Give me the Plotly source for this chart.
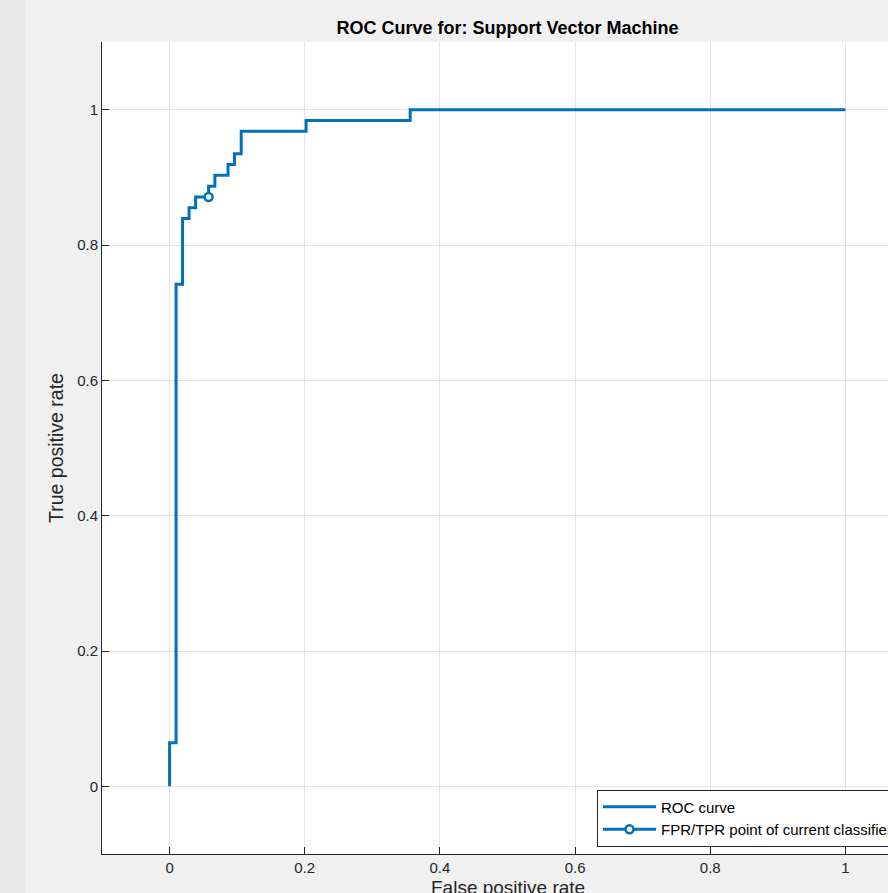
import plotly.graph_objects as go

# ROC curve vertices (step shape 'hv')
fpr = [0, 0, 0.0096, 0.0192, 0.0288, 0.0385, 0.0577, 0.067, 0.0865, 0.096, 0.106, 0.202, 0.356, 1.0]
tpr = [0, 0.0645, 0.742, 0.839, 0.855, 0.871, 0.887, 0.903, 0.919, 0.935, 0.968, 0.984, 1.0, 1.0]

# operating point of current classifier
op_fpr = [0.0577]
op_tpr = [0.871]

x_ticks = [0, 0.2, 0.4, 0.6, 0.8, 1]
x_tick_labels = ["0", "0.2", "0.4", "0.6", "0.8", "1"]
y_ticks = [0, 0.2, 0.4, 0.6, 0.8, 1]
y_tick_labels = ["0", "0.2", "0.4", "0.6", "0.8", "1"]

BLUE = "#0072BD"
FONT = "Liberation Sans, Arial, Helvetica, sans-serif"

fig = go.Figure()
fig.add_trace(go.Scatter(
    x=fpr, y=tpr, mode="lines", line=dict(color=BLUE, width=3, shape="hv"),
    name="ROC curve"))
fig.add_trace(go.Scatter(
    x=op_fpr, y=op_tpr, mode="lines+markers",
    line=dict(color=BLUE, width=3),
    marker=dict(symbol="circle", size=8, color="white", line=dict(width=2.5, color=BLUE)),
    name="FPR/TPR point of current classifier"))

# figure is wider than the window; MATLAB figure is cropped on the right
W, H = 960, 893
L, R, T, B = 102, 47, 42, 39
pw = W - L - R
ph = H - T - B

fig.update_layout(
    width=W, height=H,
    margin=dict(l=L, r=R, t=T, b=B),
    paper_bgcolor="#f0f0f0",
    plot_bgcolor="white",
    font=dict(family=FONT, size=15, color="#262626"),
    showlegend=True,
    title=dict(text="<b>ROC Curve for: Support Vector Machine</b>", xref="paper", x=0.5,
               xanchor="center", yref="container", y=1 - 28 / H, yanchor="middle",
               font=dict(size=18, color="#000000")),
    legend=dict(
        x=(597 - L) / pw, y=1 - (818 - T) / ph,
        xanchor="left", yanchor="middle",
        bgcolor="white", bordercolor="#262626", borderwidth=1,
        font=dict(family=FONT, size=15, color="#000000"),
        tracegroupgap=0, itemwidth=53,
    ),
    xaxis=dict(
        range=[-0.1, 1.1],
        tickvals=x_ticks, ticktext=x_tick_labels,
        ticks="inside", ticklen=7, tickcolor="#262626", tickwidth=1,
        showline=True, linecolor="#262626", linewidth=1, mirror=False,
        showgrid=True, gridcolor="#e3e3e3", gridwidth=1,
        zeroline=False,
        tickfont=dict(size=15, color="#262626"),
    ),
    yaxis=dict(
        range=[-0.1, 1.1],
        tickvals=y_ticks, ticktext=y_tick_labels,
        ticks="inside", ticklen=7, tickcolor="#262626", tickwidth=1,
        showline=True, linecolor="#262626", linewidth=1, mirror=False,
        showgrid=True, gridcolor="#e3e3e3", gridwidth=1,
        zeroline=False,
        tickfont=dict(size=15, color="#262626"),
        title=dict(text="True positive rate", font=dict(size=19.5, color="#262626"), standoff=8),
    ),
    shapes=[dict(type="rect", xref="paper", yref="paper",
                 x0=-L / pw, x1=(25 - L) / pw, y0=-B / ph, y1=1 + T / ph,
                 fillcolor="#e9e9e9", line=dict(width=0), layer="below")],
    annotations=[
        dict(text="False positive rate", xref="paper", yref="paper",
             x=0.5, y=-(887 - 854) / ph, xanchor="center", yanchor="middle",
             showarrow=False, font=dict(size=19, color="#262626")),
    ],
)

fig.write_html(
    "out.html",
    config={"displayModeBar": False},
    post_script=("document.body.style.margin='0';"
                 "document.body.style.overflow='hidden';"
                 "document.documentElement.style.overflow='hidden';"),
)
